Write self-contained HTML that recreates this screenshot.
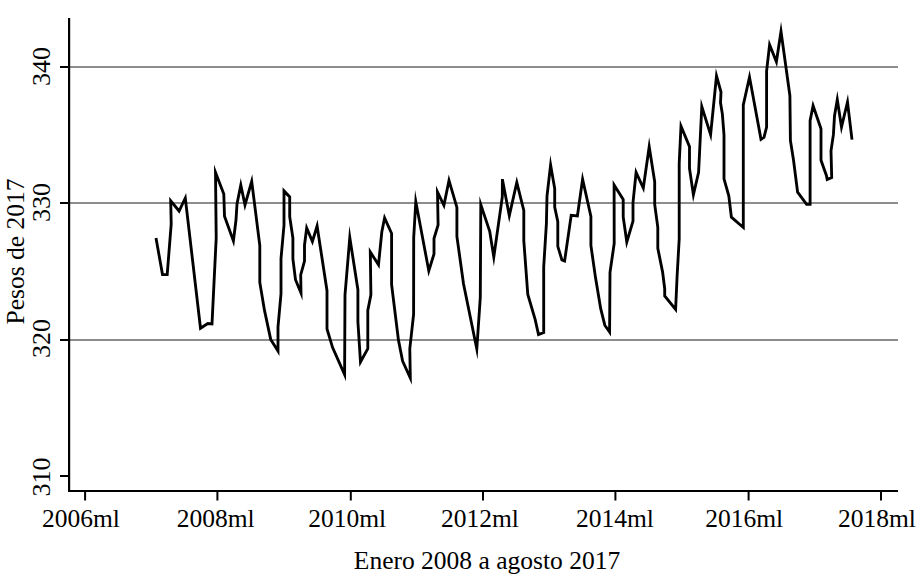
<!DOCTYPE html>
<html><head><meta charset="utf-8">
<style>
html,body{margin:0;padding:0;background:#fff;}
body{width:919px;height:580px;overflow:hidden;position:relative;}
svg{position:absolute;left:0;top:0;}
text{font-family:"Liberation Serif",serif;fill:#000;}
</style></head><body>
<svg width="919" height="580" viewBox="0 0 919 580">
<g stroke="#8d8d8d" stroke-width="2">
<line x1="70" y1="67" x2="898" y2="67"/>
<line x1="70" y1="203" x2="898" y2="203"/>
<line x1="70" y1="340" x2="898" y2="340"/>
</g>
<g stroke="#000" stroke-width="2.2" fill="none">
<line x1="69.1" y1="18" x2="69.1" y2="492"/>
<line x1="68" y1="491" x2="898" y2="491"/>
</g>
<g stroke="#000" stroke-width="2" fill="none">
<line x1="60" y1="67" x2="69" y2="67"/>
<line x1="60" y1="203" x2="69" y2="203"/>
<line x1="60" y1="340" x2="69" y2="340"/>
<line x1="60" y1="476" x2="69" y2="476"/>
<line x1="85.1" y1="491" x2="85.1" y2="500.5"/>
<line x1="217.4" y1="491" x2="217.4" y2="500.5"/>
<line x1="350.8" y1="491" x2="350.8" y2="500.5"/>
<line x1="483" y1="491" x2="483" y2="500.5"/>
<line x1="615.4" y1="491" x2="615.4" y2="500.5"/>
<line x1="748.6" y1="491" x2="748.6" y2="500.5"/>
<line x1="881" y1="491" x2="881" y2="500.5"/>
</g>
<g font-size="25.5">
<text x="41.9" y="527">2006ml</text>
<text x="176.7" y="527">2008ml</text>
<text x="308.2" y="527">2010ml</text>
<text x="440.9" y="527">2012ml</text>
<text x="575.9" y="527">2014ml</text>
<text x="705.2" y="527">2016ml</text>
<text x="837.9" y="527">2018ml</text>
<text x="487" y="569" text-anchor="middle">Enero 2008 a agosto 2017</text>
</g>
<g font-size="26" text-anchor="middle">
<text transform="translate(49.9,66.55) rotate(-90)">340</text>
<text transform="translate(49.9,202.6) rotate(-90)">330</text>
<text transform="translate(49.9,338.4) rotate(-90)">320</text>
<text transform="translate(49.9,476.9) rotate(-90)">310</text>
<text transform="translate(24.3,251.5) rotate(-90)" font-size="25.5">Pesos de 2017</text>
</g>
<polyline id="data" fill="none" stroke="#000" stroke-width="2.85" stroke-linejoin="miter" stroke-miterlimit="40" points="156,238 162.5,274.6 167.2,274.6 171.2,224 170.7,200.8 179.1,211 185.3,198 200.5,328.2 207.8,323.5 212,324 216.2,238 215.5,172.4 223.8,194 224.5,216.2 233.4,241 236,220 237,204 240.8,185 245,205 251.7,181.4 259.8,245.5 259.8,282.4 264.5,310.4 270.7,339.4 278,351 278,327 281,293.8 281,258.6 284,225.3 284,190.9 289.7,196.9 289.7,216.7 292.9,238 292.9,259 295.5,279.7 301,293 300.7,275 304.5,261 304.5,245.2 306.7,228 312.4,241.5 317.1,226 327,290.7 327,329 332.6,347.6 344.6,374.6 345,294.8 349.8,237.6 357.9,289.7 357.9,321.8 360.5,362 367.8,348.7 367.8,310.4 370.9,294.8 370.3,252 378.5,264.8 381.8,232 384.6,218 391.6,233.5 391.6,284.6 398.5,340.4 402.6,361.1 410.3,378 409.8,348.7 413.6,314.5 413.7,237.6 415.8,201.6 428.8,270.9 434,254 434,238.5 438.1,225 437.5,192 443.9,205.3 449,180.4 456.9,207.4 456.9,236.4 463.5,283.8 476.8,349 480.3,297.3 480.8,204.6 489.7,231.3 493.8,257 502.3,197 502.4,180.3 502.6,180.3 509.3,215.7 516.8,182.5 523.8,210.5 523.8,240.6 527.8,294.5 535.2,319.7 538.5,334.5 543.7,332.5 543.7,267 546.4,223.7 547,196 550.6,165 554.7,188.5 554.7,207.1 557.8,221.6 557.8,246.4 561.9,259.9 564.6,261 571.2,215.4 577.4,216 582.6,179.2 590.9,216.4 590.9,245.4 595.5,277.6 600.7,308.7 604.8,325.2 609.6,332 610,272.4 614.2,243.5 614.1,184.9 623.2,199.4 623.2,217 626.8,242 633,221.1 633,202.5 636.1,172.3 643.3,188 649.2,146.7 654.7,181.9 654.7,204.5 657.8,227.3 657.8,248.3 662.6,272.1 664.7,288.7 664.7,295.9 675.6,309.5 677.1,276.3 679.2,239 679.2,163.4 681,126.2 689.5,146.6 689.5,168.5 693.4,194.8 698.6,172.4 701.8,106.5 710.6,134.7 716.5,76 721,92 720.5,102.6 722.4,114.3 724,135 724,178.9 728.8,195.9 731.4,217.2 743.3,227.5 743.3,105 749.5,77.1 761,139.3 764,137.4 766.6,127 766.6,71 769.6,44.7 776.4,61.8 781,31.4 789.9,95.7 790.4,140.5 793.5,160 797.6,192.1 806.6,204.3 810.1,204.3 810.1,120.7 813.1,105.7 821,128.8 821,160.2 826.4,175.5 827.2,179.5 831.7,177.5 831,150.9 833.4,134.7 834.5,116 837.3,99.6 841.5,127 847.5,102 852,139.6"/>
</svg>
</body></html>
